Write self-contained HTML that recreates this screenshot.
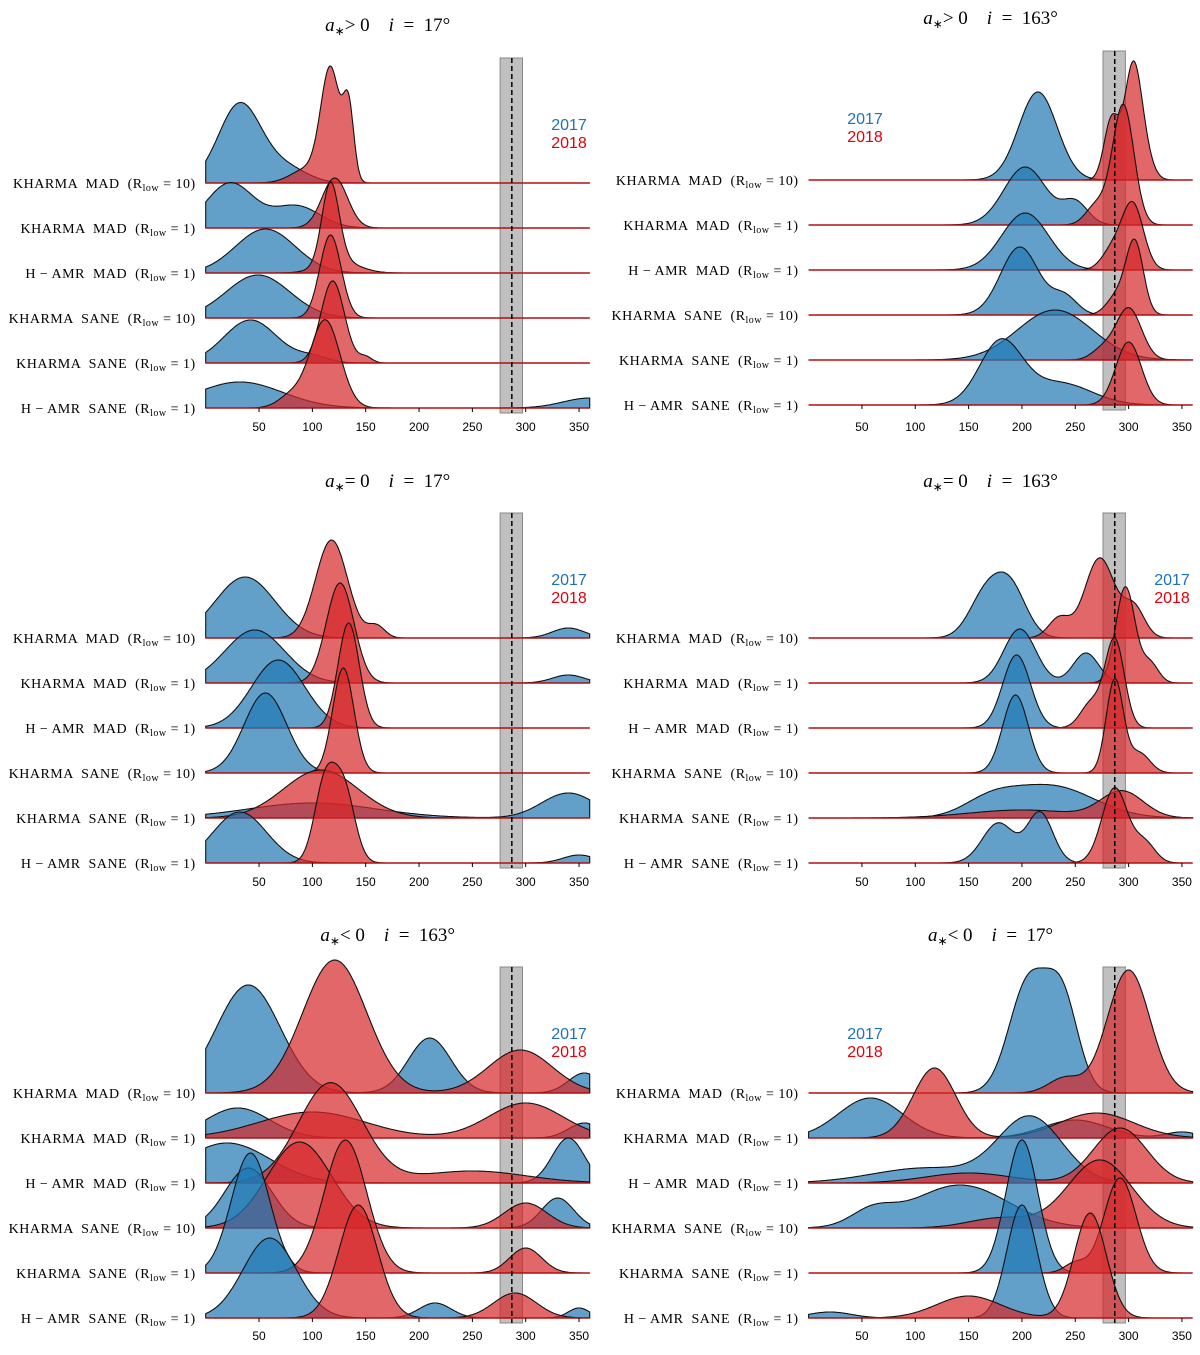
<!DOCTYPE html>
<html><head><meta charset="utf-8">
<style>
body{margin:0;background:#fff;}
svg text{font-family:"Liberation Serif",serif;white-space:pre;}
.tick{font-family:"Liberation Sans",sans-serif;font-size:12px;}
.lab{font-size:14px;letter-spacing:0.5px}
.title{font-size:19px}
.leg{font-family:"Liberation Sans",sans-serif;font-size:16px}
</style></head>
<body>
<svg id="chart" width="1200" height="1350" xmlns="http://www.w3.org/2000/svg" xml:space="preserve"></svg>
<script>
// categories and tick labels
const rowLabels = ["KHARMA  MAD  (R|low| = 10)","KHARMA  MAD  (R|low| = 1)","H − AMR  MAD  (R|low| = 1)","KHARMA  SANE  (R|low| = 10)","KHARMA  SANE  (R|low| = 1)","H − AMR  SANE  (R|low| = 1)"];
const tickValues = [50,100,150,200,250,300,350];
const bandLow = 276, bandHigh = 297, bandMid = 287;
const panelTitles = [["a","> 0","17°"],["a","> 0","163°"],["a","= 0","17°"],["a","= 0","163°"],["a","< 0","163°"],["a","< 0","17°"]];
// densities as mixture components [center, width, height]
const p1Blue = [[[32,20,79],[75,20,15]],[[23,22,45],[85,22,22]],[[56,28,44]],[[49,30,43]],[[42,25,43],[100,15,6]],[[32,40,26],[360,25,10]]];
const p1Red  = [[[117,9,112],[134,5,70],[95,15,14]],[[121,12,50]],[[117,8,80],[125,18,12]],[[117,10,83]],[[119,11,82],[150,6,6]],[[112,14,88],[80,12,12]]];
const p2Blue = [[[215,18,88]],[[203,20,58],[250,12,22]],[[203,22,57]],[[198,18,68],[240,12,18]],[[231,35,50]],[[180,20,62],[235,30,22]]];
const p2Red  = [[[304,8,110],[284,7,60],[315,8,20]],[[295,10,120],[270,10,20]],[[304,10,65],[285,10,20]],[[306,8,70],[290,10,20]],[[300,12,52],[275,10,10]],[[300,12,63]]];
const p3Blue = [[[37,28,61],[340,15,10]],[[46,28,53],[340,15,8]],[[68,25,68]],[[56,20,80]],[[100,60,15],[340,25,25]],[[32,25,51],[350,15,8]]];
const p3Red  = [[[118,15,98],[160,8,12]],[[126,13,100]],[[134,10,105]],[[129,10,105]],[[108,35,48]],[[112,10,80],[130,10,70]]];
const p4Blue = [[[165,15,40],[189,15,50]],[[198,15,54],[260,12,30]],[[195,13,73]],[[194,12,78]],[[227,40,32],[170,25,15]],[[217,12,50],[178,15,40]]];
const p4Red  = [[[273,14,80],[235,10,20],[305,10,30]],[[297,9,96],[320,8,20]],[[287,9,88],[265,10,25]],[[287,8,93],[310,10,20]],[[294,20,26],[200,50,8]],[[287,12,75],[315,10,20]]];
const p5Blue = [[[40,30,108],[210,20,55],[355,15,20]],[[30,30,30],[355,15,15]],[[20,40,40],[340,15,45]],[[40,22,60],[330,15,30]],[[42,18,120]],[[60,25,80],[215,15,15],[350,10,10]]];
const p5Red  = [[[121,30,133],[295,30,43]],[[100,50,26],[300,35,35]],[[117,30,100],[250,50,12]],[[88,30,86],[300,20,25]],[[131,20,133],[300,15,25]],[[143,18,113],[290,20,25]]];
const p6Blue = [[[206,18,110],[238,15,90]],[[58,30,40],[250,30,18],[350,15,6]],[[208,30,65],[110,50,15]],[[142,45,43],[60,20,15]],[[200,15,133]],[[200,14,113],[20,20,6]]];
const p6Red  = [[[300,20,123],[240,15,15]],[[118,20,70],[270,35,25]],[[292,25,55],[150,40,10]],[[273,30,68],[180,30,10]],[[292,15,95],[250,10,10]],[[264,15,105],[150,30,22]]];

const panelsBlue=[p1Blue,p2Blue,p3Blue,p4Blue,p5Blue,p6Blue];
const panelsRed=[p1Red,p2Red,p3Red,p4Red,p5Red,p6Red];
const layout=[
 {x0:205.7,base:183,tick:427,title:25,bandTop:58,leg:[569,124]},
 {x0:808.6,base:180,tick:427,title:18,bandTop:51,leg:[865,118]},
 {x0:205.7,base:638,tick:882,title:481,bandTop:513,leg:[569,579]},
 {x0:808.6,base:638,tick:882,title:481,bandTop:513,leg:[1172,579]},
 {x0:205.7,base:1093,tick:1336,title:935,bandTop:967,leg:[569,1033]},
 {x0:808.6,base:1093,tick:1336,title:935,bandTop:967,leg:[865,1033]}];
const NS="http://www.w3.org/2000/svg";
const svg=document.getElementById('chart');
function mk(t,a,p){const e=document.createElementNS(NS,t);for(const k in a)e.setAttribute(k,a[k]);(p||svg).appendChild(e);return e;}
const kx=384/360, rowGap=45;
function dens(c,v){let s=0;for(const q of c)s+=q[2]*Math.exp(-0.5*((v-q[0])/q[1])**2);return s;}
layout.forEach((L,pi)=>{
  const g=mk('g',{});
  
  
  const X=v=>L.x0+v*kx;
  const T=panelTitles[pi];
  const tt=mk('text',{x:X(180)-10,y:L.title+6,'text-anchor':'middle',class:'title'},g);
  
  
  tt.innerHTML='<tspan font-style="italic">'+T[0]+'</tspan><tspan font-size="12" dy="4">∗</tspan><tspan dy="-4">'+T[1]+'    </tspan><tspan font-style="italic">i</tspan><tspan>  =  '+T[2]+'</tspan>';
  const lastBase=L.base+5*rowGap;
  const band=mk('rect',{x:X(bandLow),y:L.bandTop,width:X(bandHigh)-X(bandLow),height:lastBase+5-L.bandTop,fill:'rgba(150,150,150,0.6)',stroke:'#888','stroke-width':1},g);
  
  
  for(let r=0;r<6;r++){
    const base=L.base+r*rowGap;
    [[panelsBlue[pi][r],'rgba(31,119,180,0.7)','blue'],[panelsRed[pi][r],'rgba(214,39,40,0.7)','red']].forEach(([c,f,n])=>{
      let d='M'+X(0)+','+base;
      for(let v=0;v<=360;v+=1)d+=' L'+X(v).toFixed(1)+','+(base-dens(c,v)).toFixed(1);
      d+=' L'+X(360)+','+base+' Z';
      const p=mk('path',{d:d,fill:f,stroke:'#111','stroke-width':1.1},g);
      
      
    });
    const bl=mk('line',{x1:X(0),x2:X(360),y1:base,y2:base,stroke:'#b01010','stroke-width':1.5},g);
    
    
    const parts=rowLabels[r].split('|');
    const lt=mk('text',{x:L.x0-10,y:base+5,'text-anchor':'end',class:'lab'},g);
    
    
    lt.innerHTML=parts[0]+'<tspan font-size="10" dy="3">'+parts[1]+'</tspan><tspan dy="-3">'+parts[2]+'</tspan>';
  }
  const dl=mk('line',{x1:X(bandMid),x2:X(bandMid),y1:L.bandTop,y2:lastBase+5,stroke:'#000','stroke-width':1.5,'stroke-dasharray':'5,3'},g);
  
  
  tickValues.forEach(v=>{
    const tl=mk('line',{x1:X(v),x2:X(v),y1:lastBase,y2:lastBase+4,stroke:'#000'},g);
    
    
    const t=mk('text',{x:X(v),y:L.tick+4,'text-anchor':'middle',class:'tick'},g);
    
    
    t.textContent=v;
  });
  const l1=mk('text',{x:L.leg[0],y:L.leg[1]+6,'text-anchor':'middle',class:'leg',fill:'#1f6fbf'},g);
  
  
  l1.textContent='2017';
  const l2=mk('text',{x:L.leg[0],y:L.leg[1]+24,'text-anchor':'middle',class:'leg',fill:'#e0000b'},g);
  
  
  l2.textContent='2018';
});
</script>
</body></html>
